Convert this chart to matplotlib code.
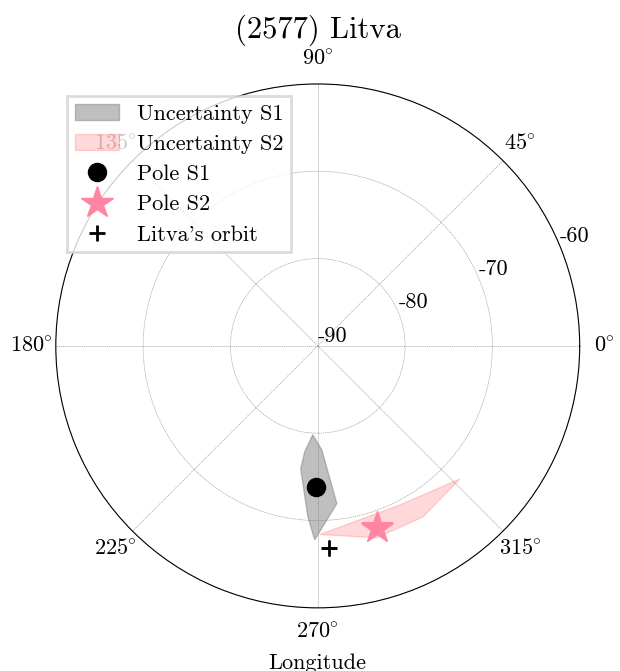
import numpy as np
import matplotlib
matplotlib.use('Agg')
import matplotlib.pyplot as plt

plt.rcParams['font.family'] = ['cmr10', 'DejaVu Serif']
plt.rcParams['axes.unicode_minus'] = False
plt.rcParams['mathtext.fontset'] = 'cm'

# uncertainty regions (longitude deg, latitude deg)
s1_lon = [266.8, 272.2, 276.9, 269.1, 266.7, 262.1, 263.0]
s1_lat = [-79.8, -78.1, -71.8, -67.8, -70.4, -75.8, -77.8]
s2_lon = [270.6, 297.3, 316.9, 301.6, 287.1]
s2_lat = [-68.4, -69.5, -67.7, -67.0, -67.0]

pole_s1 = (269.2, -73.8)
pole_s2 = (288.2, -68.1)
orbit = (273.1, -66.8)

theta_ticks = np.arange(0, 360, 45)
r_ticks = [-90, -80, -70, -60]

fig = plt.figure(figsize=(6.2, 6.71), dpi=100)
ax = fig.add_axes([0.090, 0.094, 0.845, 0.781], projection='polar')

ax.fill(np.radians(s1_lon), s1_lat, color='gray', alpha=0.5, label='Uncertainty S1')
ax.fill(np.radians(s2_lon), s2_lat, color='red', alpha=0.15, label='Uncertainty S2')
ax.plot(np.radians(pole_s1[0]), pole_s1[1], 'o', color='black', markersize=13,
        linestyle='none', label='Pole S1')
ax.plot(np.radians(pole_s2[0]), pole_s2[1], '*', color='#ff85a2', markersize=24,
        linestyle='none', label='Pole S2')
ax.plot(np.radians(orbit[0]), orbit[1], '+', color='black', markersize=12,
        markeredgewidth=2, linestyle='none', label="Litva's orbit")

ax.set_rlim(-90, -60)
ax.set_rticks(r_ticks)
ax.set_yticklabels([str(r) for r in r_ticks])
ax.set_thetagrids(theta_ticks, labels=[f'${t}\\!^\\circ$' for t in theta_ticks])
ax.tick_params(labelsize=16)
ax.tick_params(axis='x', pad=7)
ax.grid(True, color='gray', linewidth=0.5, alpha=0.7, linestyle=(0, (2, 1)))

ax.set_title('(2577) Litva', fontsize=22, pad=9)
ax.set_xlabel('Longitude', fontsize=16, labelpad=8)

leg = fig.legend(loc='upper left', bbox_to_anchor=(0.09, 0.873), fontsize=16,
                 fancybox=False, framealpha=0.8, handlelength=2.0,
                 labelspacing=0.48, borderpad=0.35, handletextpad=0.8)
leg.get_frame().set_edgecolor('lightgray')
leg.get_frame().set_linewidth(2)

fig.savefig('out.png', dpi=100)
